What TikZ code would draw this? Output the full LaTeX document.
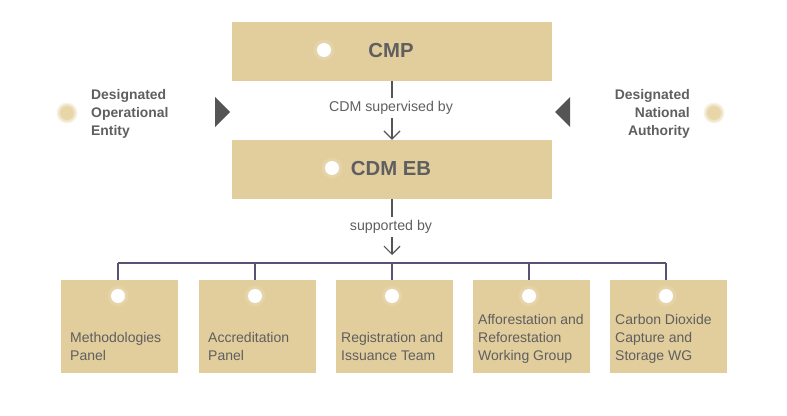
\documentclass[tikz,border=0pt]{standalone}
\usepackage{fontspec}
\setmainfont{Liberation Sans}
\usetikzlibrary{arrows.meta}
\definecolor{tan}{HTML}{E2CD9C}
\definecolor{dot}{HTML}{E8D6A8}
\definecolor{txt}{HTML}{5F5F5F}
\definecolor{bus}{HTML}{5B5177}
\definecolor{arr}{HTML}{555555}
\tikzset{
  bigbox/.style={fill=tan, draw=none, minimum width=320pt, minimum height=59pt, inner sep=0pt},
  smallbox/.style={fill=tan, draw=none, minimum width=117pt, minimum height=93pt, inner sep=0pt},
  bigtext/.style={font=\fontsize{20.3}{22}\selectfont\bfseries, text=txt, inner sep=0pt},
  boxtext/.style={font=\fontsize{14}{18}\selectfont, text=txt, align=left, inner sep=0pt, anchor=south west},
  sidetext/.style={font=\fontsize{13.9}{18}\selectfont\bfseries, text=txt, inner sep=0pt},
  lbl/.style={font=\fontsize{14.2}{16}\selectfont, text=txt, inner sep=0pt},
  conn/.style={draw=arr, line width=1.2pt},
  arrowline/.style={draw=arr, line width=1.2pt, -{Straight Barb[length=8pt,width=16pt,line width=1.2pt]}},
  busline/.style={draw=bus, line width=2pt},
  tri/.style={fill=arr, draw=none},
}
\newcommand{\glowdot}[3]{%
  \fill[tan!70, opacity=0.35] (#1) circle (#2+3.5);
  \fill[tan!80, opacity=0.5] (#1) circle (#2+2);
  \fill[#3] (#1) circle (#2);
}
\begin{document}
\begin{tikzpicture}[x=1pt,y=-1pt]
\useasboundingbox (0,0) rectangle (787,415);
% top boxes
\node[bigbox] (cmp) at (392,51.5) {};
\node[bigbox] (eb) at (392,169.5) {};
\node[bigtext] (cmpt) at (391,51) {CMP};
\node[bigtext] (ebt) at (391,169) {CDM EB};
\glowdot{324,50}{7}{white}
\glowdot{332,168}{7}{white}
% connector CMP -> EB
\node[lbl] (l1) at (391,108) {CDM supervised by};
\coordinate (l1a) at (392,98);
\coordinate (l1b) at (392,118);
\draw[conn] (cmp.south) -- (l1a);
\draw[arrowline] (l1b) -- (eb.north);
% connector EB -> bus
\node[lbl] (l2) at (391,227) {supported by};
\coordinate (l2a) at (392,217);
\coordinate (l2b) at (392,237);
\coordinate (arrtip) at (392,255);
\draw[conn] (eb.south) -- (l2a);
\draw[arrowline] (l2b) -- (arrtip);
% bottom boxes
\node[smallbox] (b1) at (119.5,326.5) {};
\node[smallbox] (b2) at (257.5,326.5) {};
\node[smallbox] (b3) at (394.5,326.5) {};
\node[smallbox] (b4) at (531.5,326.5) {};
\node[smallbox] (b5) at (668.5,326.5) {};
% bus
\coordinate (busl) at (118,263);
\coordinate (busr) at (666,263);
\draw[busline] (busl) -- (busr);
\foreach \b/\x in {b1/118,b2/255,b3/392,b4/529,b5/666}{
  \draw[busline] (\x,263) -- (\x,280);
  \glowdot{\x,296}{7}{white}
}
\node[boxtext] (t1) at (70,361) {Methodologies\\Panel};
\node[boxtext] (t2) at (208,361) {Accreditation\\Panel};
\node[boxtext] (t3) at (341,361) {Registration and\\Issuance Team};
\node[boxtext] (t4) at (478,363.5) {Afforestation and\\Reforestation\\Working Group};
\node[boxtext] (t5) at (615,363.5) {Carbon Dioxide\\Capture and\\Storage WG};
% side items
\glowdot{67,113}{7}{dot}
\glowdot{714,113}{7}{dot}
\node[sidetext, align=left, anchor=west] (doe) at (91,114) {Designated\\Operational\\Entity};
\node[sidetext, align=right, anchor=east] (dna) at (690,114) {Designated\\National\\Authority};
\fill[tri] (215,97) -- (230,112) -- (215,127) -- cycle;
\fill[tri] (570,97) -- (555,112) -- (570,127) -- cycle;
\end{tikzpicture}
\end{document}
